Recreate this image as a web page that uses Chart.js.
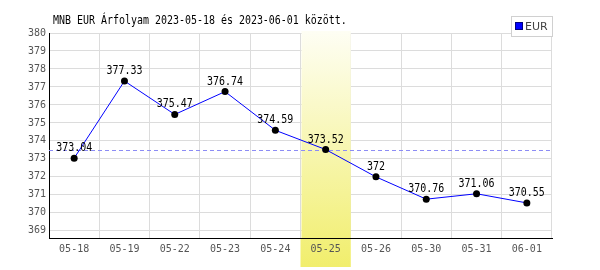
<!DOCTYPE html>
<html>
<head>
<meta charset="utf-8">
<script src="https://cdn.jsdelivr.net/npm/chart.js@4/dist/chart.umd.min.js"></script>
<style>
  html, body { margin: 0; padding: 0; background: #fff; }
  #wrap { width: 600px; height: 270px; position: relative; }
</style>
</head>
<body>
<div id="wrap"><canvas id="chart" width="600" height="270"></canvas></div>
<script>
// adatok
const labels = ['05-18', '05-19', '05-22', '05-23', '05-24', '05-25', '05-26', '05-30', '05-31', '06-01']
const rates = [373.04, 377.33, 375.47, 376.74, 374.59, 373.52, 372, 370.76, 371.06, 370.55]
const yTicks = [369, 370, 371, 372, 373, 374, 375, 376, 377, 378, 379, 380]
const highlightIndex = 5
const refValue = 373.52
const titleText = 'MNB EUR Árfolyam 2023-05-18 és 2023-06-01 között.'
const seriesName = 'EUR'

const MONO = '"DejaVu Sans Mono", monospace'
const SQUEEZE = 0.83

// keskenyített szöveg (a minta betűtípusa keskenyebb)
function narrowText(ctx, text, x, y, align) {
   ctx.save()
   ctx.translate(x, y)
   ctx.scale(SQUEEZE, 1)
   ctx.textAlign = align
   ctx.fillText(text, 0, 0)
   ctx.restore()
}

// kiemelt sáv, szaggatott vonal, címkék, cím és jelmagyarázat
const decor = {
   id: 'decor',
   bandGradient(chart) {
      const g = chart.ctx.createLinearGradient(0, 31, 0, 267)
      g.addColorStop(0, '#fefef4')
      g.addColorStop(1, '#f1ee6c')
      return g
   },
   bandX(chart) {
      const x = chart.scales.x
      const half = (x.getPixelForValue(1) - x.getPixelForValue(0)) / 2
      const c = x.getPixelForValue(highlightIndex)
      return [c - half, c + half]
   },
   beforeDraw(chart) {
      const ctx = chart.ctx
      const [x0, x1] = this.bandX(chart)
      ctx.save()
      ctx.fillStyle = this.bandGradient(chart)
      ctx.fillRect(x0, chart.chartArea.bottom, x1 - x0, 267 - chart.chartArea.bottom)
      ctx.restore()
   },
   beforeDatasetsDraw(chart) {
      const ctx = chart.ctx
      const area = chart.chartArea
      const [x0, x1] = this.bandX(chart)
      ctx.save()
      ctx.fillStyle = this.bandGradient(chart)
      ctx.fillRect(x0 + 1, 31, x1 - x0 - 1, area.bottom - 31)
      // alsó tengelyvonal újra
      ctx.strokeStyle = '#000'
      ctx.lineWidth = 1
      ctx.beginPath()
      ctx.moveTo(area.left, Math.round(area.bottom) + 0.5)
      ctx.lineTo(area.right, Math.round(area.bottom) + 0.5)
      ctx.stroke()
      // szaggatott referencia vonal
      const y = Math.round(chart.scales.y.getPixelForValue(refValue)) + 0.5
      ctx.strokeStyle = '#8c8cf5'
      ctx.setLineDash([4, 3])
      ctx.beginPath()
      ctx.moveTo(area.left, y)
      ctx.lineTo(area.right, y)
      ctx.stroke()
      ctx.restore()
   },
   afterDraw(chart) {
      const ctx = chart.ctx
      const meta = chart.getDatasetMeta(0)
      ctx.save()
      ctx.font = '12px ' + MONO
      ctx.fillStyle = '#000'
      ctx.textBaseline = 'alphabetic'
      meta.data.forEach((pt, i) => {
         narrowText(ctx, String(rates[i]), pt.x, pt.y - 7, 'center')
      })
      // cím
      narrowText(ctx, titleText, 53, 24, 'left')
      // jelmagyarázat
      ctx.fillStyle = '#fff'
      ctx.fillRect(511.5, 16.5, 41, 20)
      ctx.strokeStyle = '#d0d0d0'
      ctx.lineWidth = 1
      ctx.strokeRect(511.5, 16.5, 41, 20)
      ctx.fillStyle = '#0000ff'
      ctx.fillRect(516, 23, 6, 6)
      ctx.strokeStyle = '#000080'
      ctx.strokeRect(515.5, 22.5, 7, 7)
      ctx.fillStyle = '#444'
      ctx.font = '11px "DejaVu Sans", sans-serif'
      ctx.textAlign = 'left'
      ctx.textBaseline = 'middle'
      ctx.fillText(seriesName, 525, 27)
      ctx.restore()
   }
}

new Chart(document.getElementById('chart'), {
   type: 'line',
   data: {
      labels: labels,
      datasets: [{
         label: seriesName,
         data: rates,
         borderColor: '#0000ff',
         borderWidth: 1,
         tension: 0,
         pointRadius: 3.5,
         pointBackgroundColor: '#000',
         pointBorderColor: '#000',
         pointBorderWidth: 0,
         fill: false
      }]
   },
   options: {
      responsive: false,
      animation: false,
      layout: { padding: { top: 33, right: 48, left: 0, bottom: 0 } },
      plugins: {
         legend: { display: false },
         tooltip: { enabled: false }
      },
      scales: {
         x: {
            type: 'category',
            offset: true,
            grid: { offset: true, color: '#dcdcdc', drawTicks: false },
            border: { color: '#000', width: 1 },
            ticks: {
               color: '#555',
               padding: 5,
               maxRotation: 0,
               font: { family: MONO, size: 10 }
            },
            afterFit: s => { s.height = 32 }
         },
         y: {
            type: 'linear',
            min: 368.6,
            max: 380,
            grid: { color: '#dcdcdc', drawTicks: false },
            border: { color: '#000', width: 1 },
            ticks: {
               color: '#555',
               padding: 3,
               font: { family: MONO, size: 10 }
            },
            afterBuildTicks: s => { s.ticks = yTicks.map(v => ({ value: v })) },
            afterFit: s => { s.width = 49 }
         }
      }
   },
   plugins: [decor]
})
</script>
</body>
</html>
